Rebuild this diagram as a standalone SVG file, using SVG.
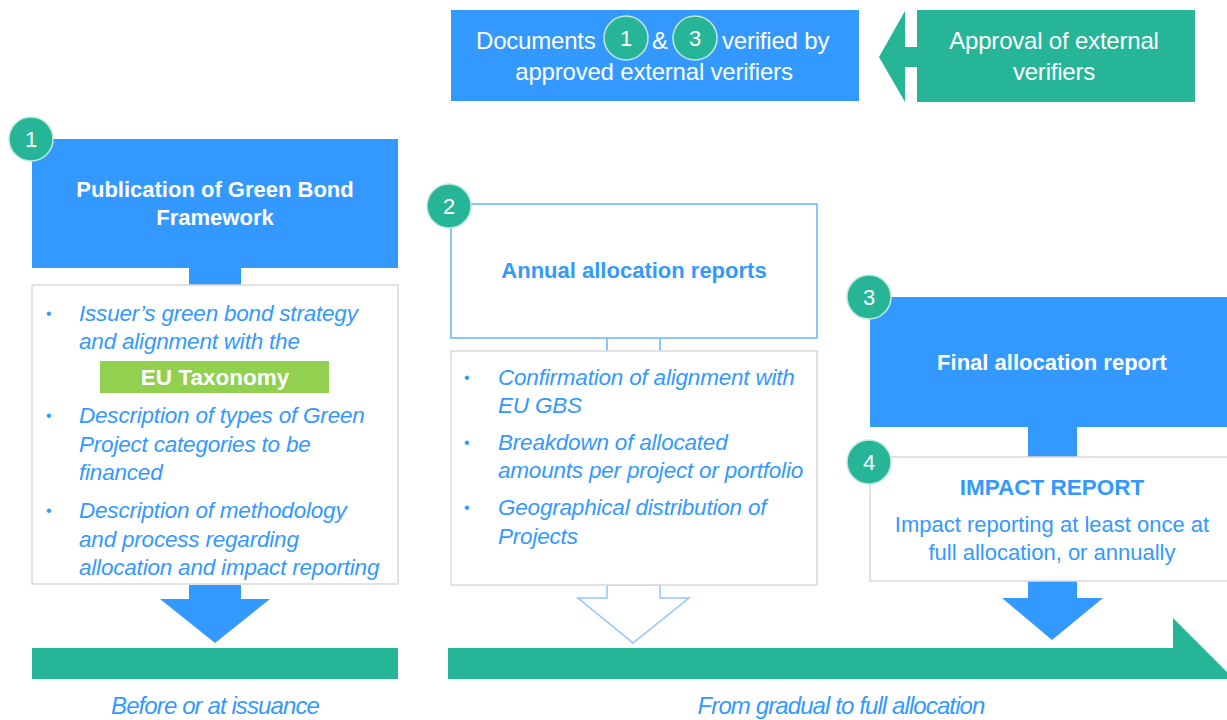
<svg xmlns="http://www.w3.org/2000/svg" width="1227" height="720" viewBox="0 0 1227 720">
<style>
.blue{fill:#3399ff}
.green{fill:#26b597}
.wbox{fill:#ffffff;stroke:#d9d9d9;stroke-width:1.5}
.obox{fill:#ffffff;stroke:#66b2ff;stroke-width:1.5}
.badge{fill:#26b597;stroke:#bfe9dd;stroke-width:1.5}
.badget{font-family:"Liberation Sans",Arial,sans-serif;font-size:22px;fill:#ffffff;text-anchor:middle}
.wt{font-family:"Liberation Sans",Arial,sans-serif;font-size:24px;fill:#ffffff;letter-spacing:-0.2px}
.wtb{font-family:"Liberation Sans",Arial,sans-serif;font-size:22px;font-weight:bold;fill:#ffffff;text-anchor:middle}
.bt{font-family:"Liberation Sans",Arial,sans-serif;font-size:22.5px;font-style:italic;fill:#3399ff;letter-spacing:-0.2px}
.bul{font-family:"Liberation Sans",Arial,sans-serif;font-size:16px;fill:#3399ff}
.btb{font-family:"Liberation Sans",Arial,sans-serif;font-size:22px;font-weight:bold;fill:#3399ff;text-anchor:middle}
.btr{font-family:"Liberation Sans",Arial,sans-serif;font-size:22px;fill:#3399ff;text-anchor:middle}
.lbl{font-family:"Liberation Sans",Arial,sans-serif;font-size:24px;font-style:italic;fill:#3399ff;text-anchor:middle;letter-spacing:-0.9px}
</style>

<g id="connectors">
  <rect class="blue" x="189" y="268" width="52" height="18"/>
  <path d="M607,338 V351 M660,338 V351" stroke="#66b2ff" stroke-width="1.5" fill="none"/>
  <rect x="607.75" y="337" width="51.5" height="3" fill="#ffffff"/>
  <rect class="blue" x="1028" y="427" width="49" height="31"/>
  <polygon class="blue" points="189,585 241,585 241,599 270,599 215,643 160,599 189,599"/>
  <polygon points="607,585 660,585 660,598 689,598 633,643 578,598 607,598" fill="#ffffff" stroke="#8fc6ff" stroke-width="1.5"/>
  <polygon class="blue" points="1028,581 1077,581 1077,598 1103,598 1052,640 1002,598 1028,598"/>
  <rect class="green" x="32" y="648" width="366" height="31"/>
  <polygon class="green" points="448,648 1173,648 1173,618 1227,672 1227,679 448,679"/>
</g>

<g id="node-verified">
  <rect class="blue" x="451" y="10" width="408" height="91"/>
  <text class="wt" x="476" y="49">Documents</text>
  <circle class="badge" cx="626" cy="38" r="22"/>
  <text class="badget" x="626" y="46">1</text>
  <text class="wt" x="652" y="49">&amp;</text>
  <circle class="badge" cx="695" cy="38" r="22"/>
  <text class="badget" x="695" y="46">3</text>
  <text class="wt" x="722" y="49">verified by</text>
  <text class="wt" x="654" y="80" text-anchor="middle">approved external verifiers</text>
</g>

<g id="node-approval">
  <polygon class="green" points="879,57 905,11 905,47 917,47 917,10 1195,10 1195,102 917,102 917,67 905,67 905,102"/>
  <text class="wt" x="1054" y="49" text-anchor="middle">Approval of external</text>
  <text class="wt" x="1054" y="80" text-anchor="middle">verifiers</text>
</g>

<g id="node-1">
  <rect class="blue" x="32" y="139" width="366" height="129"/>
  <circle class="badge" cx="31" cy="139" r="22"/>
  <text class="badget" x="31" y="147">1</text>
  <text class="wtb" x="215" y="197">Publication of Green Bond</text>
  <text class="wtb" x="215" y="225">Framework</text>
</g>

<g id="node-1-details">
  <rect class="wbox" x="32" y="285" width="366" height="299"/>
  <text class="bul" x="46" y="319">•</text>
  <text class="bt" x="79" y="321">Issuer’s green bond strategy</text>
  <text class="bt" x="79" y="349">and alignment with the</text>
  <rect x="100" y="361" width="229" height="32" fill="#92d050"/>
  <text class="wtb" x="215" y="385" style="font-size:22.5px">EU Taxonomy</text>
  <text class="bul" x="46" y="421">•</text>
  <text class="bt" x="79" y="423">Description of types of Green</text>
  <text class="bt" x="79" y="452">Project categories to be</text>
  <text class="bt" x="79" y="480">financed</text>
  <text class="bul" x="46" y="516">•</text>
  <text class="bt" x="79" y="518">Description of methodology</text>
  <text class="bt" x="79" y="547">and process regarding</text>
  <text class="bt" x="79" y="575">allocation and impact reporting</text>
</g>

<g id="node-2">
  <rect class="obox" x="451" y="204" width="366" height="134"/>
  <circle class="badge" cx="449" cy="206" r="22"/>
  <text class="badget" x="449" y="214">2</text>
  <text class="btb" x="634" y="278">Annual allocation reports</text>
</g>

<g id="node-2-details">
  <rect class="wbox" x="451" y="351" width="366" height="234"/>
  <text class="bul" x="464" y="383">•</text>
  <text class="bt" x="498" y="385">Confirmation of alignment with</text>
  <text class="bt" x="498" y="413">EU GBS</text>
  <text class="bul" x="464" y="448">•</text>
  <text class="bt" x="498" y="450">Breakdown of allocated</text>
  <text class="bt" x="498" y="478">amounts per project or portfolio</text>
  <text class="bul" x="464" y="513">•</text>
  <text class="bt" x="498" y="515">Geographical distribution of</text>
  <text class="bt" x="498" y="544">Projects</text>
</g>

<g id="node-3">
  <rect class="blue" x="870" y="297" width="360" height="130"/>
  <circle class="badge" cx="869" cy="297" r="22"/>
  <text class="badget" x="869" y="305">3</text>
  <text class="wtb" x="1052" y="370">Final allocation report</text>
</g>

<g id="node-4">
  <rect class="wbox" x="870" y="457" width="360" height="124"/>
  <circle class="badge" cx="869" cy="462" r="22"/>
  <text class="badget" x="869" y="470">4</text>
  <text class="btb" x="1052" y="495" style="font-size:22.5px">IMPACT REPORT</text>
  <text class="btr" x="1052" y="532">Impact reporting at least once at</text>
  <text class="btr" x="1052" y="560">full allocation, or annually</text>
</g>

<g id="labels">
  <text class="lbl" x="215" y="714">Before or at issuance</text>
  <text class="lbl" x="841" y="714">From gradual to full allocation</text>
</g>
</svg>
